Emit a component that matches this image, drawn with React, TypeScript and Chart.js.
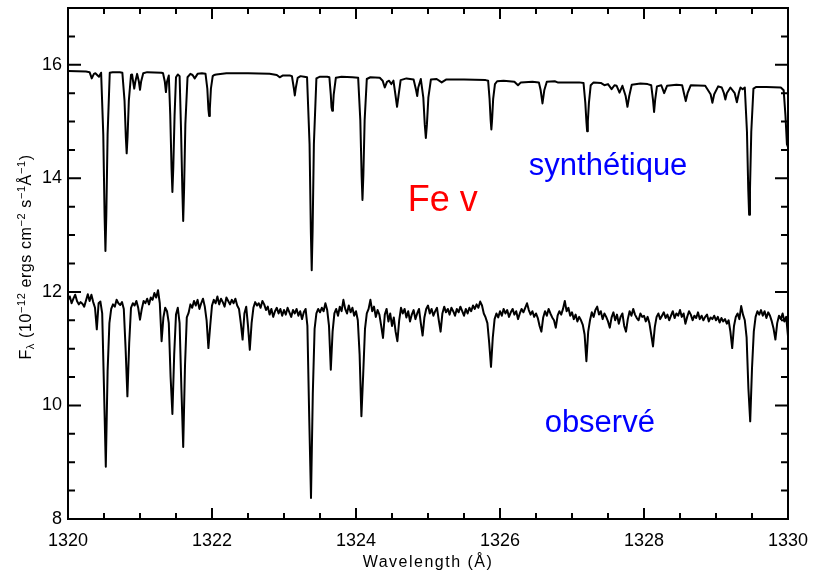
import React, { useEffect, useRef } from "react";
import { Chart, registerables } from "chart.js";
Chart.register(...registerables);

// ---------- axes ----------
const X_MIN = 1320;
const X_MAX = 1330;
const Y_MIN = 8;
const Y_MAX = 17;
const xTickValues = [1320, 1322, 1324, 1326, 1328, 1330];
const yTickValues = [8, 10, 12, 14, 16];
const xMinorStep = 0.5;
const yMinorStep = 0.5;

// ---------- synthetic spectrum (wavelength, flux) ----------
const synthPoints: [number, number][] = [
  [1320.00, 15.89], [1320.25, 15.88], [1320.30, 15.87], [1320.33, 15.76], [1320.36, 15.84],
  [1320.38, 15.85], [1320.43, 15.79], [1320.46, 15.86], [1320.49, 14.77], [1320.508, 13.35],
  [1320.52, 12.72], [1320.532, 13.35], [1320.55, 14.77], [1320.58, 15.86], [1320.62, 15.87],
  [1320.72, 15.87], [1320.755, 15.86], [1320.785, 15.37], [1320.803, 14.73], [1320.815, 14.44],
  [1320.827, 14.73], [1320.845, 15.37], [1320.875, 15.82], [1320.89, 15.83], [1320.905, 15.70],
  [1320.92, 15.58], [1320.935, 15.70], [1320.96, 15.84], [1320.985, 15.70], [1321.00, 15.56],
  [1321.015, 15.70], [1321.045, 15.85], [1321.10, 15.87], [1321.30, 15.86], [1321.32, 15.85],
  [1321.345, 15.70], [1321.36, 15.52], [1321.375, 15.70], [1321.40, 15.81], [1321.42, 15.12],
  [1321.438, 14.18], [1321.45, 13.76], [1321.462, 14.18], [1321.48, 15.10], [1321.50, 15.78],
  [1321.525, 15.83], [1321.55, 15.80], [1321.57, 14.85], [1321.588, 13.80], [1321.60, 13.25],
  [1321.612, 13.80], [1321.63, 14.95], [1321.66, 15.78], [1321.70, 15.84], [1321.73, 15.82],
  [1321.76, 15.76], [1321.80, 15.84], [1321.86, 15.85], [1321.91, 15.84], [1321.935, 15.58],
  [1321.95, 15.22], [1321.96, 15.10], [1321.97, 15.22], [1321.985, 15.58], [1322.01, 15.80],
  [1322.03, 15.82], [1322.06, 15.83], [1322.20, 15.85], [1322.50, 15.85], [1322.80, 15.84],
  [1322.90, 15.82], [1322.94, 15.78], [1322.98, 15.81], [1323.08, 15.81], [1323.11, 15.80],
  [1323.135, 15.60], [1323.15, 15.46], [1323.165, 15.60], [1323.19, 15.77], [1323.23, 15.80],
  [1323.28, 15.79], [1323.32, 15.78], [1323.355, 14.60], [1323.373, 13.06], [1323.385, 12.38],
  [1323.397, 13.06], [1323.415, 14.60], [1323.45, 15.76], [1323.50, 15.79], [1323.60, 15.79],
  [1323.63, 15.78], [1323.65, 15.47], [1323.66, 15.25], [1323.67, 15.19], [1323.68, 15.25],
  [1323.69, 15.47], [1323.72, 15.77], [1323.80, 15.79], [1323.95, 15.78], [1324.03, 15.77],
  [1324.06, 15.02], [1324.078, 14.05], [1324.09, 13.62], [1324.102, 14.05], [1324.12, 15.02],
  [1324.15, 15.75], [1324.20, 15.78], [1324.33, 15.77], [1324.37, 15.72], [1324.40, 15.60],
  [1324.43, 15.70], [1324.46, 15.72], [1324.49, 15.66], [1324.52, 15.72], [1324.55, 15.45],
  [1324.57, 15.26], [1324.59, 15.45], [1324.62, 15.73], [1324.70, 15.76], [1324.80, 15.74],
  [1324.835, 15.55], [1324.85, 15.45], [1324.865, 15.60], [1324.90, 15.75], [1324.935, 15.42],
  [1324.955, 14.95], [1324.97, 14.71], [1324.985, 14.95], [1325.005, 15.42], [1325.04, 15.74],
  [1325.12, 15.75], [1325.19, 15.69], [1325.25, 15.74], [1325.50, 15.74], [1325.80, 15.73],
  [1325.835, 15.72], [1325.855, 15.40], [1325.87, 15.03], [1325.88, 14.86], [1325.89, 15.03],
  [1325.905, 15.40], [1325.93, 15.66], [1325.96, 15.71], [1326.05, 15.72], [1326.20, 15.70],
  [1326.25, 15.64], [1326.29, 15.69], [1326.45, 15.70], [1326.54, 15.69], [1326.565, 15.55],
  [1326.59, 15.32], [1326.615, 15.55], [1326.65, 15.70], [1326.76, 15.71], [1326.80, 15.69],
  [1327.10, 15.69], [1327.16, 15.68], [1327.185, 15.33], [1327.20, 15.00], [1327.21, 14.83],
  [1327.22, 15.00], [1327.235, 15.33], [1327.26, 15.64], [1327.30, 15.69], [1327.40, 15.68],
  [1327.45, 15.64], [1327.50, 15.66], [1327.55, 15.57], [1327.59, 15.64], [1327.62, 15.63],
  [1327.66, 15.51], [1327.70, 15.63], [1327.745, 15.45], [1327.77, 15.26], [1327.795, 15.45],
  [1327.83, 15.65], [1327.95, 15.67], [1328.05, 15.66], [1328.10, 15.64], [1328.125, 15.38],
  [1328.14, 15.17], [1328.155, 15.38], [1328.18, 15.62], [1328.24, 15.64], [1328.28, 15.50],
  [1328.32, 15.63], [1328.45, 15.65], [1328.53, 15.64], [1328.555, 15.50], [1328.58, 15.36],
  [1328.605, 15.50], [1328.65, 15.64], [1328.85, 15.63], [1328.925, 15.48], [1328.95, 15.33],
  [1328.975, 15.48], [1329.03, 15.62], [1329.08, 15.60], [1329.11, 15.50], [1329.13, 15.39],
  [1329.15, 15.50], [1329.20, 15.60], [1329.26, 15.50], [1329.29, 15.34], [1329.32, 15.52],
  [1329.34, 15.60], [1329.37, 15.57], [1329.40, 15.60], [1329.43, 14.82], [1329.448, 13.81],
  [1329.46, 13.36], [1329.472, 13.81], [1329.49, 14.82], [1329.52, 15.58], [1329.56, 15.61],
  [1329.70, 15.61], [1329.90, 15.60], [1329.94, 15.55], [1329.965, 15.10], [1329.985, 14.60],
  [1330.00, 14.55],
];

// ---------- observed spectrum (sampled every 0.025 Å from 1320) ----------
const obsStart = 1320;
const obsStep = 0.025;
const obsFlux = [
  11.86, 11.92, 11.80, 11.88, 11.95, 11.84, 11.78, 11.82, 11.79, 11.74, 11.85, 11.96, 11.84, 11.95, 11.82, 11.72, 11.34, 11.80, 11.83, 11.62,
  10.30, 8.92, 10.60, 11.45, 11.70, 11.78, 11.74, 11.86, 11.80, 11.77, 11.82, 11.70, 11.00, 10.16, 11.10, 11.72, 11.80, 11.76, 11.84, 11.72,
  11.51, 11.70, 11.84, 11.80, 11.88, 11.78, 11.90, 11.86, 11.98, 11.90, 12.03, 11.80, 11.13, 11.55, 11.72, 11.66, 11.45, 10.50, 9.85, 10.90,
  11.60, 11.72, 11.45, 10.30, 9.27, 10.70, 11.55, 11.63, 11.78, 11.72, 11.84, 11.76, 11.86, 11.70, 11.80, 11.88, 11.74, 11.50, 11.01, 11.40,
  11.76, 11.86, 11.80, 11.92, 11.78, 11.88, 11.82, 11.74, 11.90, 11.84, 11.78, 11.86, 11.80, 11.88, 11.76, 11.70, 11.45, 11.16, 11.62, 11.74,
  11.40, 10.98, 11.45, 11.72, 11.82, 11.76, 11.80, 11.72, 11.84, 11.78, 11.68, 11.74, 11.60, 11.70, 11.56, 11.66, 11.72, 11.62, 11.70, 11.58,
  11.68, 11.60, 11.72, 11.64, 11.56, 11.68, 11.62, 11.70, 11.58, 11.66, 11.52, 11.64, 11.70, 11.40, 9.80, 8.37, 10.20, 11.35, 11.62, 11.70,
  11.64, 11.72, 11.66, 11.80, 11.68, 11.40, 10.63, 11.30, 11.62, 11.70, 11.58, 11.74, 11.66, 11.86, 11.70, 11.62, 11.76, 11.64, 11.72, 11.58,
  11.66, 11.50, 10.90, 9.81, 10.55, 11.35, 11.62, 11.70, 11.86, 11.66, 11.74, 11.56, 11.68, 11.60, 11.40, 11.19, 11.60, 11.70, 11.48, 11.62,
  11.40, 11.55, 11.30, 11.13, 11.50, 11.72, 11.62, 11.70, 11.55, 11.66, 11.48, 11.60, 11.68, 11.52, 11.62, 11.70, 11.45, 11.23, 11.55, 11.70,
  11.76, 11.62, 11.70, 11.58, 11.66, 11.72, 11.50, 11.30, 11.62, 11.74, 11.64, 11.70, 11.60, 11.72, 11.66, 11.58, 11.70, 11.64, 11.74, 11.66,
  11.58, 11.70, 11.62, 11.72, 11.66, 11.76, 11.70, 11.78, 11.72, 11.83, 11.76, 11.62, 11.55, 11.45, 11.10, 10.68, 11.20, 11.52, 11.62, 11.55,
  11.66, 11.58, 11.70, 11.62, 11.68, 11.56, 11.64, 11.70, 11.60, 11.66, 11.52, 11.62, 11.70, 11.64, 11.72, 11.80, 11.68, 11.60, 11.66, 11.56,
  11.62, 11.54, 11.40, 11.30, 11.55, 11.66, 11.58, 11.70, 11.62, 11.55, 11.50, 11.37, 11.58, 11.66, 11.60, 11.70, 11.84, 11.66, 11.72, 11.58,
  11.64, 11.52, 11.60, 11.48, 11.56, 11.50, 11.42, 11.25, 10.78, 11.30, 11.50, 11.64, 11.56, 11.68, 11.74, 11.60, 11.66, 11.52, 11.62, 11.56,
  11.48, 11.37, 11.55, 11.64, 11.50, 11.60, 11.44, 11.56, 11.62, 11.40, 11.30, 11.52, 11.66, 11.58, 11.70, 11.60, 11.54, 11.50, 11.62, 11.56,
  11.58, 11.48, 11.56, 11.45, 11.25, 11.04, 11.38, 11.56, 11.62, 11.52, 11.58, 11.64, 11.54, 11.60, 11.50, 11.58, 11.66, 11.54, 11.62, 11.58,
  11.68, 11.56, 11.62, 11.44, 11.56, 11.66, 11.60, 11.50, 11.58, 11.54, 11.64, 11.52, 11.58, 11.50, 11.56, 11.60, 11.48, 11.55, 11.52, 11.58,
  11.50, 11.56, 11.46, 11.54, 11.48, 11.52, 11.44, 11.50, 11.30, 11.01, 11.40, 11.56, 11.62, 11.52, 11.75, 11.60, 11.50, 11.20, 10.30, 9.72,
  10.65, 11.30, 11.56, 11.66, 11.60, 11.68, 11.58, 11.66, 11.54, 11.64, 11.58, 11.48, 11.35, 11.16, 11.45, 11.58, 11.52, 11.62, 11.48, 11.56,
  11.22,
];

// ---------- labels ----------
const xTitle = "Wavelength (Å)";
const yTitleParts: { t: string; k: "n" | "sup" | "sub" }[] = [
  { t: "F", k: "n" },
  { t: "λ", k: "sub" },
  { t: " (10", k: "n" },
  { t: "−12", k: "sup" },
  { t: " ergs cm", k: "n" },
  { t: "−2", k: "sup" },
  { t: " s", k: "n" },
  { t: "−1", k: "sup" },
  { t: "Å", k: "n" },
  { t: "−1", k: "sup" },
  { t: ")", k: "n" },
];
const annotations = [
  { text: "Fe v", color: "#ff0000", size: 36, x: 1324.72, y: 13.42 },
  { text: "synthétique", color: "#0000ff", size: 31, x: 1326.4, y: 14.05 },
  { text: "observé", color: "#0000ff", size: 31, x: 1326.62, y: 9.53 },
];

const FONT = "'Liberation Sans', Arial, Helvetica, sans-serif";

const framePlugin = {
  id: "idlFrame",
  afterDraw(chart: any) {
    const { ctx, chartArea: a } = chart;
    const xs = chart.scales.x;
    const ys = chart.scales.y;
    ctx.save();
    ctx.strokeStyle = "#000";
    ctx.lineWidth = 2;
    ctx.strokeRect(a.left, a.top, a.right - a.left, a.bottom - a.top);
    ctx.beginPath();
    const nx = Math.round((X_MAX - X_MIN) / xMinorStep);
    for (let i = 0; i <= nx; i++) {
      const v = X_MIN + i * xMinorStep;
      const major = xTickValues.some((t) => Math.abs(t - v) < 1e-6);
      const len = major ? 11 : 6;
      const px = xs.getPixelForValue(v);
      ctx.moveTo(px, a.bottom);
      ctx.lineTo(px, a.bottom - len);
      ctx.moveTo(px, a.top);
      ctx.lineTo(px, a.top + len);
    }
    const ny = Math.round((Y_MAX - Y_MIN) / yMinorStep);
    for (let i = 0; i <= ny; i++) {
      const v = Y_MIN + i * yMinorStep;
      const major = yTickValues.some((t) => Math.abs(t - v) < 1e-6);
      const len = major ? 13 : 7;
      const py = ys.getPixelForValue(v);
      ctx.moveTo(a.left, py);
      ctx.lineTo(a.left + len, py);
      ctx.moveTo(a.right, py);
      ctx.lineTo(a.right - len, py);
    }
    ctx.stroke();

    // annotations
    ctx.textAlign = "left";
    ctx.textBaseline = "alphabetic";
    for (const an of annotations) {
      ctx.font = `${an.size}px ${FONT}`;
      ctx.fillStyle = an.color;
      ctx.fillText(an.text, xs.getPixelForValue(an.x), ys.getPixelForValue(an.y));
    }

    // x title
    ctx.fillStyle = "#000";
    ctx.font = `16px ${FONT}`;
    (ctx as any).letterSpacing = "1.5px";
    ctx.textAlign = "center";
    ctx.fillText(xTitle, (a.left + a.right) / 2, 567);

    // y title (rotated, with super/subscripts)
    ctx.textAlign = "left";
    const mainSize = 16;
    const smallSize = 11;
    (ctx as any).letterSpacing = "0.6px";
    let total = 0;
    const widths = yTitleParts.map((p) => {
      ctx.font = `${p.k === "n" ? mainSize : smallSize}px ${FONT}`;
      const w = ctx.measureText(p.t).width;
      total += w;
      return w;
    });
    ctx.translate(31, 257);
    ctx.rotate(-Math.PI / 2);
    let cx = -total / 2;
    yTitleParts.forEach((p, i) => {
      ctx.font = `${p.k === "n" ? mainSize : smallSize}px ${FONT}`;
      const dy = p.k === "sup" ? -6 : p.k === "sub" ? 3 : 0;
      ctx.fillText(p.t, cx, dy);
      cx += widths[i];
    });
    ctx.restore();
  },
};

export default function App() {
  const ref = useRef<HTMLCanvasElement>(null);
  useEffect(() => {
    if (!ref.current) return;
    const synthData = synthPoints.map(([x, y]) => ({ x, y }));
    const obsData = obsFlux.map((y, i) => ({ x: obsStart + i * obsStep, y }));
    const chart = new Chart(ref.current, {
      type: "line",
      data: {
        datasets: [
          {
            label: "synthétique",
            data: synthData,
            borderColor: "#000",
            borderWidth: 2,
            pointRadius: 0,
            tension: 0,
            borderJoinStyle: "round",
          },
          {
            label: "observé",
            data: obsData,
            borderColor: "#000",
            borderWidth: 2,
            pointRadius: 0,
            tension: 0,
            borderJoinStyle: "round",
          },
        ],
      },
      options: {
        animation: false,
        responsive: false,
        parsing: false as any,
        normalized: true,
        layout: { padding: { top: 8, right: 26, left: 0, bottom: 0 } },
        plugins: { legend: { display: false }, tooltip: { enabled: false }, title: { display: false } },
        scales: {
          x: {
            type: "linear",
            min: X_MIN,
            max: X_MAX,
            grid: { display: false, drawTicks: false },
            border: { display: false },
            ticks: {
              color: "#000",
              font: { family: FONT, size: 18 },
              padding: 11,
              maxRotation: 0,
              autoSkip: false,
              callback: (v: any) => String(v),
            },
            afterBuildTicks: (s: any) => {
              s.ticks = xTickValues.map((value) => ({ value }));
            },
            afterFit: (s: any) => {
              s.height = 53;
              s.paddingLeft = 0;
              s.paddingRight = 0;
              s.paddingTop = 0;
              s.paddingBottom = 0;
            },
          },
          y: {
            type: "linear",
            min: Y_MIN,
            max: Y_MAX,
            grid: { display: false, drawTicks: false },
            border: { display: false },
            ticks: {
              color: "#000",
              font: { family: FONT, size: 18 },
              padding: 6,
              callback: (v: any) => String(v),
            },
            afterBuildTicks: (s: any) => {
              s.ticks = yTickValues.map((value) => ({ value }));
            },
            afterFit: (s: any) => {
              s.width = 68;
              s.paddingLeft = 0;
              s.paddingRight = 0;
              s.paddingTop = 0;
              s.paddingBottom = 0;
            },
          },
        },
      },
      plugins: [framePlugin],
    });
    return () => chart.destroy();
  }, []);
  return (
    <div style={{ position: "absolute", left: 0, top: 0, width: 814, height: 572, background: "#fff" }}>
      <canvas ref={ref} width={814} height={572} style={{ display: "block" }} />
    </div>
  );
}
